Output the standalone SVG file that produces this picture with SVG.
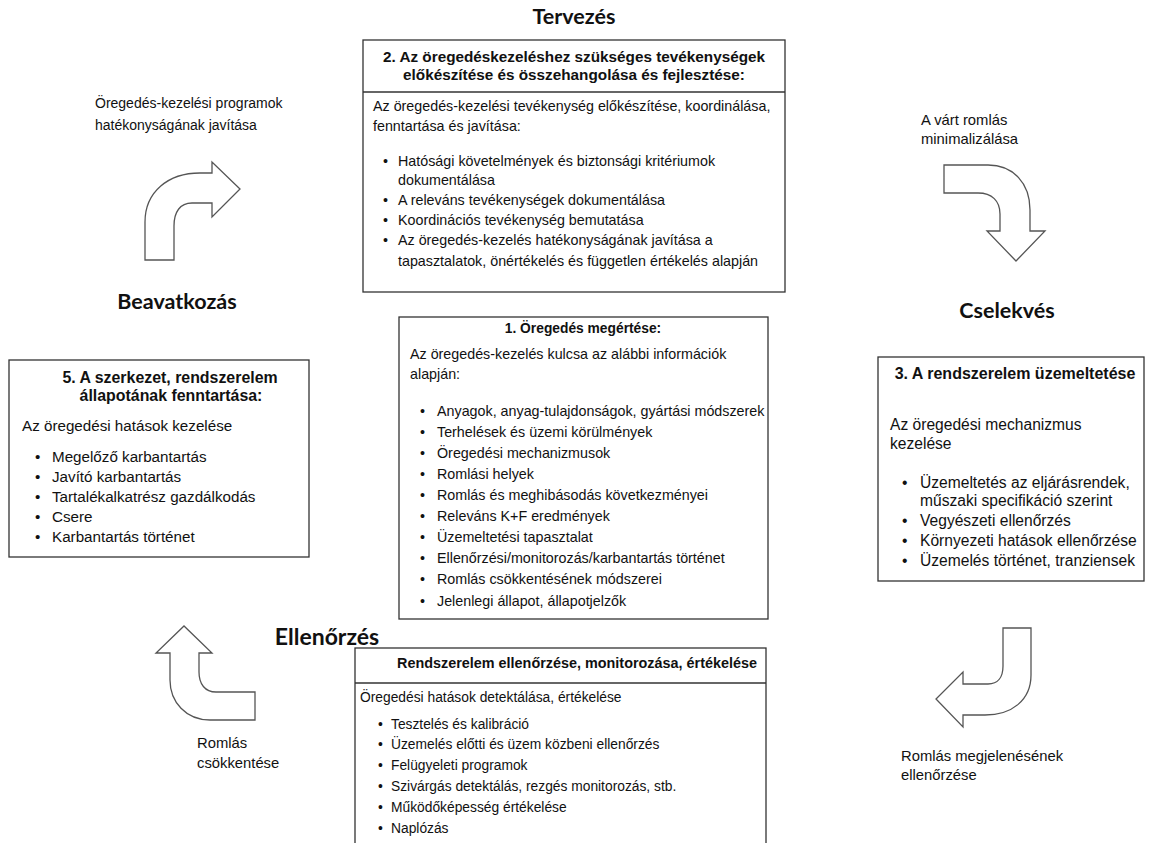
<svg xmlns="http://www.w3.org/2000/svg" width="1153" height="843" viewBox="0 0 1153 843">
<style>
.bg{fill:#fff}
.box{fill:#fff;stroke:#333;stroke-width:1.3}
.sep{stroke:#333;stroke-width:1.3}
.arr{fill:#fff;stroke:#555;stroke-width:1.3;stroke-linejoin:miter}
.t{font-family:"Liberation Sans",Arial,sans-serif;font-size:14.3px;fill:#111}
.h{font-family:"Liberation Sans",Arial,sans-serif;font-size:14px;font-weight:bold;fill:#111}
.lbl{font-family:"Liberation Sans",Arial,sans-serif;font-size:14.8px;fill:#111}
.ttl{font-family:Lato,"Liberation Sans",sans-serif;font-size:21.5px;font-weight:bold;fill:#111}
.c{text-anchor:middle}
#node2 .h{font-size:15.3px}
#node1 .h{font-size:13.8px}
#node5 .h{font-size:15.9px}
#node5 .t{font-size:15.2px}
#node3 .h{font-size:16px}
#node3 .t{font-size:15.6px}
#node4 .h{font-size:14.4px}
#node4 .t{font-size:13.8px}
#arrow-top-left .lbl{font-size:14px}
#title-ellenorzes .ttl{font-size:23px}
</style>
<rect class="bg" x="0" y="0" width="1153" height="843"/>

<g id="title-tervezes"><text class="ttl c" x="574" y="24">Tervezés</text></g>
<g id="title-beavatkozas"><text class="ttl c" x="177" y="309">Beavatkozás</text></g>
<g id="title-cselekves"><text class="ttl c" x="1007" y="318">Cselekvés</text></g>
<g id="title-ellenorzes"><text class="ttl c" x="327" y="645">Ellenőrzés</text></g>

<g id="node2">
<rect class="box" x="363" y="40" width="422" height="252"/>
<line class="sep" x1="363" y1="92" x2="785" y2="92"/>
<text class="h c" x="574" y="62">2. Az öregedéskezeléshez szükséges tevékenységek</text>
<text class="h c" x="574" y="80">előkészítése és összehangolása és fejlesztése:</text>
<text class="t" x="373" y="111">Az öregedés-kezelési tevékenység előkészítése, koordinálása,</text>
<text class="t" x="373" y="131">fenntartása és javítása:</text>
<text class="t" x="383" y="166">•</text><text class="t" x="398" y="166">Hatósági követelmények és biztonsági kritériumok</text>
<text class="t" x="398" y="185">dokumentálása</text>
<text class="t" x="383" y="205">•</text><text class="t" x="398" y="205">A releváns tevékenységek dokumentálása</text>
<text class="t" x="383" y="225">•</text><text class="t" x="398" y="225">Koordinációs tevékenység bemutatása</text>
<text class="t" x="383" y="245">•</text><text class="t" x="398" y="245">Az öregedés-kezelés hatékonyságának javítása a</text>
<text class="t" x="398" y="266">tapasztalatok, önértékelés és független értékelés alapján</text>
</g>

<g id="node1">
<rect class="box" x="399" y="317" width="369" height="302"/>
<text class="h c" x="583" y="333">1. Öregedés megértése:</text>
<text class="t" x="410" y="359">Az öregedés-kezelés kulcsa az alábbi információk</text>
<text class="t" x="410" y="379">alapján:</text>
<text class="t" x="420" y="416">•</text><text class="t" x="437" y="416">Anyagok, anyag-tulajdonságok, gyártási módszerek</text>
<text class="t" x="420" y="437">•</text><text class="t" x="437" y="437">Terhelések és üzemi körülmények</text>
<text class="t" x="420" y="458">•</text><text class="t" x="437" y="458">Öregedési mechanizmusok</text>
<text class="t" x="420" y="479">•</text><text class="t" x="437" y="479">Romlási helyek</text>
<text class="t" x="420" y="500">•</text><text class="t" x="437" y="500">Romlás és meghibásodás következményei</text>
<text class="t" x="420" y="521">•</text><text class="t" x="437" y="521">Releváns K+F eredmények</text>
<text class="t" x="420" y="542">•</text><text class="t" x="437" y="542">Üzemeltetési tapasztalat</text>
<text class="t" x="420" y="563">•</text><text class="t" x="437" y="563">Ellenőrzési/monitorozás/karbantartás történet</text>
<text class="t" x="420" y="584">•</text><text class="t" x="437" y="584">Romlás csökkentésének módszerei</text>
<text class="t" x="420" y="606">•</text><text class="t" x="437" y="606">Jelenlegi állapot, állapotjelzők</text>
</g>

<g id="node5">
<rect class="box" x="9" y="360" width="300" height="197"/>
<text class="h c" x="170" y="383">5. A szerkezet, rendszerelem</text>
<text class="h c" x="171" y="401">állapotának fenntartása:</text>
<text class="t" x="22" y="431">Az öregedési hatások kezelése</text>
<text class="t" x="35" y="462">•</text><text class="t" x="52" y="462">Megelőző karbantartás</text>
<text class="t" x="35" y="482">•</text><text class="t" x="52" y="482">Javító karbantartás</text>
<text class="t" x="35" y="502">•</text><text class="t" x="52" y="502">Tartalékalkatrész gazdálkodás</text>
<text class="t" x="35" y="522">•</text><text class="t" x="52" y="522">Csere</text>
<text class="t" x="35" y="542">•</text><text class="t" x="52" y="542">Karbantartás történet</text>
</g>

<g id="node3">
<rect class="box" x="878" y="357" width="266" height="224"/>
<text class="h c" x="1015" y="379">3. A rendszerelem üzemeltetése</text>
<text class="t" x="890" y="430">Az öregedési mechanizmus</text>
<text class="t" x="890" y="449">kezelése</text>
<text class="t" x="902" y="488">•</text><text class="t" x="920" y="488">Üzemeltetés az eljárásrendek,</text>
<text class="t" x="920" y="506">műszaki specifikáció szerint</text>
<text class="t" x="902" y="526">•</text><text class="t" x="920" y="526">Vegyészeti ellenőrzés</text>
<text class="t" x="902" y="546">•</text><text class="t" x="920" y="546">Környezeti hatások ellenőrzése</text>
<text class="t" x="902" y="566">•</text><text class="t" x="920" y="566">Üzemelés történet, tranziensek</text>
</g>

<g id="node4">
<rect class="box" x="355" y="648" width="411" height="210"/>
<line class="sep" x1="355" y1="683" x2="766" y2="683"/>
<text class="h c" x="577" y="668">Rendszerelem ellenőrzése, monitorozása, értékelése</text>
<text class="t" x="360" y="702">Öregedési hatások detektálása, értékelése</text>
<text class="t" x="378" y="729">•</text><text class="t" x="391" y="729">Tesztelés és kalibráció</text>
<text class="t" x="378" y="749">•</text><text class="t" x="391" y="749">Üzemelés előtti és üzem közbeni ellenőrzés</text>
<text class="t" x="378" y="770">•</text><text class="t" x="391" y="770">Felügyeleti programok</text>
<text class="t" x="378" y="791">•</text><text class="t" x="391" y="791">Szivárgás detektálás, rezgés monitorozás, stb.</text>
<text class="t" x="378" y="812">•</text><text class="t" x="391" y="812">Működőképesség értékelése</text>
<text class="t" x="378" y="833">•</text><text class="t" x="391" y="833">Naplózás</text>
</g>

<g id="connectors">
<g id="arrow-top-left">
<path class="arr" d="M145,260 L145,222 C145,192 168,173 200,173 L212,173 L212,162 L240,189 L212,217 L212,203 L192,203 C180,203 174,212 174,226 L174,260 Z"/>
<text class="lbl" x="95" y="108">Öregedés-kezelési programok</text>
<text class="lbl" x="95" y="130">hatékonyságának javítása</text>
</g>
<g id="arrow-top-right">
<path class="arr" d="M944,165 L988,165 C1013,165 1030,183 1030,210 L1030,231 L1045,231 L1016,261 L987,231 L1000,231 L1000,214 C1000,201 992,193 978,193 L944,193 Z"/>
<text class="lbl" x="921" y="125">A várt romlás</text>
<text class="lbl" x="921" y="144">minimalizálása</text>
</g>
<g id="arrow-bottom-right">
<path class="arr" d="M1003,628 L1031,628 L1031,675 C1031,700 1012,715 985,715 L963,715 L963,727 L936,699 L963,672 L963,684 L988,684 C998,684 1003,677 1003,666 Z"/>
<text class="lbl" x="901" y="761">Romlás megjelenésének</text>
<text class="lbl" x="901" y="780">ellenőrzése</text>
</g>
<g id="arrow-bottom-left">
<path class="arr" d="M255,692 L255,720 L210,720 C186,720 170,702 170,680 L170,653 L156,653 L184,626 L212,653 L199,653 L199,672 C199,684 205,692 216,692 Z"/>
<text class="lbl" x="197" y="748">Romlás</text>
<text class="lbl" x="197" y="768">csökkentése</text>
</g>
</g>
</svg>
